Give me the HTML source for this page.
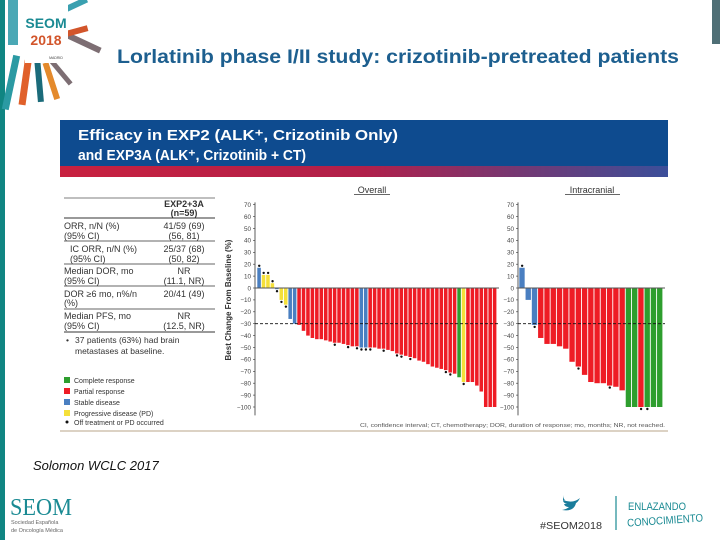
<!DOCTYPE html>
<html><head><meta charset="utf-8"><style>
html,body{margin:0;padding:0;background:#fff;}
svg{display:block;font-family:"Liberation Sans",sans-serif;}
</style></head><body>
<svg id="slide" width="720" height="540" viewBox="0 0 720 540" xmlns="http://www.w3.org/2000/svg">
<defs>
<linearGradient id="strip" x1="0" x2="1" y1="0" y2="0"><stop offset="0" stop-color="#c8213f"/><stop offset="0.5" stop-color="#b1204a"/><stop offset="1" stop-color="#3b4f9a"/></linearGradient>
</defs>
<rect x="0" y="0" width="5" height="540" fill="#108582"/>
<rect x="712" y="0" width="8" height="44" fill="#4f6f76"/>
<g>
<rect x="8" y="55" width="7" height="55" fill="#2b9aa3" transform="rotate(12 11 80)"/>
<rect x="22" y="60" width="7" height="45" fill="#e0602a" transform="rotate(8 25 80)"/>
<rect x="36" y="62" width="6" height="40" fill="#1b6b7a" transform="rotate(-5 39 80)"/>
<rect x="48" y="62" width="6" height="38" fill="#e48a2c" transform="rotate(-18 51 80)"/>
<rect x="58" y="58" width="5" height="30" fill="#7d6e73" transform="rotate(-40 60 72)"/>
<rect x="66" y="40" width="36" height="6" fill="#7d6e73" transform="rotate(25 84 43)"/>
<rect x="66" y="28" width="22" height="6" fill="#d2552b" transform="rotate(-15 77 31)"/>
<rect x="62" y="2" width="26" height="6" fill="#3aa0b0" transform="rotate(-25 75 5)"/>
<rect x="8" y="0" width="10" height="45" fill="#4aa8b5"/>
<rect x="25" y="3" width="43" height="60" fill="#fff"/>
<text x="46" y="28" font-size="14" font-weight="bold" fill="#1a8a93" text-anchor="middle">SEOM</text>
<text x="46" y="45" font-size="14" font-weight="bold" fill="#d2552b" text-anchor="middle">2018</text>
<text x="56" y="59" font-size="3.5" fill="#444" text-anchor="middle">MADRID</text>
</g>
<text x="117" y="63" font-size="19" font-weight="bold" fill="#1d5f8f" textLength="562" lengthAdjust="spacingAndGlyphs">Lorlatinib phase I/II study: crizotinib-pretreated patients</text>
<rect x="60" y="120" width="608" height="46" fill="#0e4b8f"/>
<rect x="60" y="166" width="608" height="11" fill="url(#strip)"/>
<text x="78" y="140" font-size="14.5" font-weight="bold" fill="#fff" textLength="320" lengthAdjust="spacingAndGlyphs">Efficacy in EXP2 (ALK⁺, Crizotinib Only)</text>
<text x="78" y="160" font-size="14.5" font-weight="bold" fill="#fff" textLength="228" lengthAdjust="spacingAndGlyphs">and EXP3A (ALK⁺, Crizotinib + CT)</text>

<g font-size="9" fill="#333">
<line x1="64" y1="198" x2="215" y2="198" stroke="#555" stroke-width="0.8"/>
<text x="184" y="207" text-anchor="middle" font-weight="bold">EXP2+3A</text>
<text x="184" y="216" text-anchor="middle" font-weight="bold">(n=59)</text>
<line x1="64" y1="218" x2="215" y2="218" stroke="#333" stroke-width="1"/>
<text x="64" y="229">ORR, n/N (%)</text><text x="184" y="229" text-anchor="middle">41/59 (69)</text>
<text x="64" y="239">(95% CI)</text><text x="184" y="239" text-anchor="middle">(56, 81)</text>
<line x1="64" y1="241" x2="215" y2="241" stroke="#333" stroke-width="0.8"/>
<text x="70" y="252">IC ORR, n/N (%)</text><text x="184" y="252" text-anchor="middle">25/37 (68)</text>
<text x="70" y="262">(95% CI)</text><text x="184" y="262" text-anchor="middle">(50, 82)</text>
<line x1="64" y1="264" x2="215" y2="264" stroke="#333" stroke-width="0.8"/>
<text x="64" y="274">Median DOR, mo</text><text x="184" y="274" text-anchor="middle">NR</text>
<text x="64" y="284">(95% CI)</text><text x="184" y="284" text-anchor="middle">(11.1, NR)</text>
<line x1="64" y1="286" x2="215" y2="286" stroke="#333" stroke-width="0.8"/>
<text x="64" y="297">DOR ≥6 mo, n%/n</text><text x="184" y="297" text-anchor="middle">20/41 (49)</text>
<text x="64" y="306">(%)</text>
<line x1="64" y1="309" x2="215" y2="309" stroke="#333" stroke-width="0.8"/>
<text x="64" y="319">Median PFS, mo</text><text x="184" y="319" text-anchor="middle">NR</text>
<text x="64" y="329">(95% CI)</text><text x="184" y="329" text-anchor="middle">(12.5, NR)</text>
<line x1="64" y1="332" x2="215" y2="332" stroke="#333" stroke-width="1"/>
<text x="66" y="343" font-size="8.5">•</text>
<text x="75" y="343" font-size="8.5">37 patients (63%) had brain</text>
<text x="75" y="354" font-size="8.5">metastases at baseline.</text>
</g>
<g font-size="7" fill="#333">
<rect x="64" y="377" width="6" height="6" fill="#2e9e2e"/><text x="74" y="383">Complete response</text>
<rect x="64" y="388" width="6" height="6" fill="#ee1c25"/><text x="74" y="394">Partial response</text>
<rect x="64" y="399" width="6" height="6" fill="#4a7fc1"/><text x="74" y="405">Stable disease</text>
<rect x="64" y="410" width="6" height="6" fill="#f5e03a"/><text x="74" y="416">Progressive disease (PD)</text>
<circle cx="67" cy="422" r="1.5" fill="#111"/><text x="74" y="425">Off treatment or PD occurred</text>
</g>
<text x="360" y="427" font-size="5.2" fill="#555" textLength="305" lengthAdjust="spacingAndGlyphs">CI, confidence interval; CT, chemotherapy; DOR, duration of response; mo, months; NR, not reached.</text>
<line x1="60" y1="431" x2="668" y2="431" stroke="#b9a48a" stroke-width="1"/>
<text x="231" y="300" font-size="8" font-weight="bold" fill="#333" text-anchor="middle" transform="rotate(-90 231 300)">Best Change From Baseline (%)</text>
<text x="372" y="193" font-size="9" fill="#333" text-anchor="middle">Overall</text>
<line x1="354" y1="194.5" x2="390" y2="194.5" stroke="#333" stroke-width="0.7"/>
<text x="592" y="193" font-size="9" fill="#333" text-anchor="middle">Intracranial</text>
<line x1="565" y1="194.5" x2="620" y2="194.5" stroke="#333" stroke-width="0.7"/>
<g id="charts"></g>

<text x="33" y="470" font-size="13" font-style="italic" fill="#111">Solomon WCLC 2017</text>
<g>
<text x="10" y="515" font-size="24" fill="#1a8a93" font-family="Liberation Serif, serif" textLength="62" lengthAdjust="spacingAndGlyphs">SEOM</text>
<text x="11" y="524" font-size="5.5" fill="#666">Sociedad Española</text>
<text x="11" y="532" font-size="5.5" fill="#666">de Oncología Médica</text>
</g>
<path d="M563 500 q10 4 17 -2 q-2 4 -4 5 q-2 9 -14 7 q5 -1 7 -3 q-4 0 -5 -3 q2 0 3 0 q-4 -1 -4 -4 q1 1 3 1 q-3 -2 -3 -6" fill="#1a7d9c"/>
<text x="540" y="529" font-size="10.5" fill="#333" textLength="62" lengthAdjust="spacingAndGlyphs">#SEOM2018</text>
<line x1="616" y1="496" x2="616" y2="530" stroke="#1a8a93" stroke-width="1.2"/>
<text x="628" y="510" font-size="11" fill="#1a8a93" textLength="58" lengthAdjust="spacingAndGlyphs">ENLAZANDO</text>
<text x="627" y="524" font-size="11" fill="#1a8a93" textLength="76" lengthAdjust="spacingAndGlyphs" transform="rotate(-4 665 520)">CONOCIMIENTO</text>
</svg>
<script>
// Overall waterfall data
const overallValues = [17,11,11,4,-1,-10,-14,-26,-30,-31,-36,-40,-42,-43,-43,-44,-45,-46,-46,-47,-48,-49,-49,-50,-50,-50,-50,-51,-51,-52,-53,-55,-56,-57,-58,-59,-61,-62,-64,-66,-67,-68,-69,-71,-72,-75,-79,-79,-79,-82,-87,-100,-100,-100];
const overallColors = ["B","Y","Y","Y","B","Y","Y","B","B","R","R","R","R","R","R","R","R","R","R","R","R","R","R","B","B","R","R","R","R","R","R","R","R","R","R","R","R","R","R","R","R","R","R","R","R","G","Y","R","R","R","R","R","R","R"];
const overallDots = [1,1,1,1,1,1,1,0,0,0,0,0,0,0,0,0,0,1,0,0,1,0,1,1,1,1,0,0,1,0,0,1,1,0,1,0,0,0,0,0,0,0,1,1,0,0,1,0,0,0,0,0,0,0];
// Intracranial waterfall data
const icValues = [17,-10,-31,-42,-47,-47,-49,-51,-62,-66,-73,-79,-80,-80,-82,-83,-86,-100,-100,-100,-100,-100,-100];
const icColors = ["B","B","B","R","R","R","R","R","R","R","R","R","R","R","R","R","R","G","G","R","G","G","G"];
const icDots = [1,0,1,0,0,0,0,0,0,1,0,0,0,0,1,0,0,0,0,1,1,0,0];
const yTicks = [70,60,50,40,30,20,10,0,-10,-20,-30,-40,-50,-60,-70,-80,-90,-100];
const threshold = -30;

const NS="http://www.w3.org/2000/svg";
const COL={R:"#ee1c25",B:"#4a7fc1",Y:"#f5e03a",G:"#2e9e2e"};
const root=document.getElementById("charts");
function yScale(v){return 288 - v*1.19;}
function mk(tag,attrs,parent){const e=document.createElementNS(NS,tag);for(const k in attrs)e.setAttribute(k,attrs[k]);parent.appendChild(e);return e;}

function drawChart(name,axisX,x0,x1,values,colors,dots,labelX){
  const g=mk("g",{},root);
  
  
  const ax=mk("line",{x1:axisX,y1:yScale(72),x2:axisX,y2:yScale(-107),stroke:"#333","stroke-width":0.8},g);
  
  
  yTicks.forEach(t=>{
    const tk=mk("line",{x1:axisX-2,y1:yScale(t),x2:axisX,y2:yScale(t),stroke:"#333","stroke-width":0.6},g);
    
    
    const lb=mk("text",{x:labelX,y:yScale(t)+2.3,"font-size":6.3,fill:"#444","text-anchor":"end"},g);
    lb.textContent=String(t).replace("-","\u2212");
    
    
  });
  const w=(x1-x0)/values.length;
  values.forEach((v,i)=>{
    const x=x0+i*w;
    const y=Math.min(yScale(v),yScale(0)), h=Math.abs(yScale(v)-yScale(0));
    const r=mk("rect",{x:x+0.3,y:y,width:Math.max(w-0.9,1),height:Math.max(h,0.5),fill:COL[colors[i]]},g);
    
    
    if(dots[i]){
      const cy=v>=0?yScale(v)-2:yScale(v)+2;
      const d=mk("circle",{cx:x+w/2,cy:cy,r:1.2,fill:"#111"},g);
      
      
    }
  });
  const zl=mk("line",{x1:axisX,y1:yScale(0),x2:x1+2,y2:yScale(0),stroke:"#555","stroke-width":0.9},g);
  
  
  const th=mk("line",{x1:axisX,y1:yScale(threshold),x2:x1+2,y2:yScale(threshold),stroke:"#111","stroke-width":0.8,"stroke-dasharray":"3,2"},g);
  
  
}
drawChart("overall",255,257,497,overallValues,overallColors,overallDots,251);
drawChart("intracranial",518,519,663,icValues,icColors,icDots,514);
</script>
</body></html>
